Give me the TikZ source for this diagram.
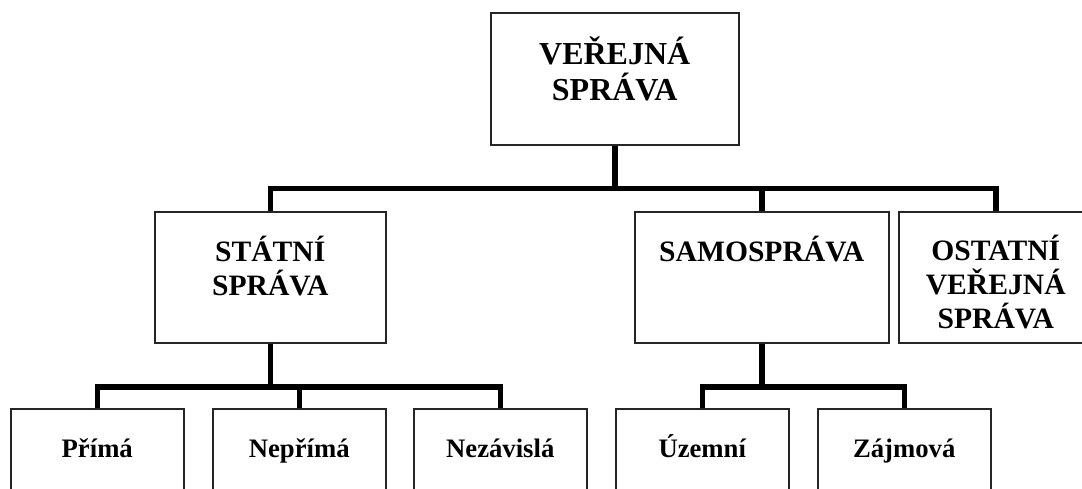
\documentclass[tikz,border=0pt]{standalone}
\usepackage{fontspec}
\setmainfont{Liberation Serif}
\begin{document}
\begin{tikzpicture}[x=1pt,y=-1pt,
  box/.style={draw=black!85,line width=1.5pt,rectangle,inner sep=0pt,anchor=north west},
  conn/.style={draw=black,line width=5.5pt,line join=miter,line cap=butt},
  lblA/.style={anchor=base,align=center,inner sep=0pt,font=\bfseries\fontsize{32}{36}\selectfont},
  lblB/.style={anchor=base,align=center,inner sep=0pt,font=\bfseries\fontsize{29.6}{34}\selectfont},
  lblC/.style={anchor=base,align=center,inner sep=0pt,font=\bfseries\fontsize{26.7}{30}\selectfont}]
\clip (0,0) rectangle (1082,488);
\fill[white] (0,0) rectangle (1082,488);
% boxes
\node[box,minimum width=248pt,minimum height=132pt] (T) at (490,12) {};
\node[box,minimum width=231pt,minimum height=131pt] (A) at (154,211) {};
\node[box,minimum width=254pt,minimum height=131pt] (B) at (634,211) {};
\node[box,minimum width=194pt,minimum height=131pt] (C) at (898,211) {};
\node[box,minimum width=173pt,minimum height=130pt] (P1) at (10,408) {};
\node[box,minimum width=173pt,minimum height=130pt] (P2) at (212,408) {};
\node[box,minimum width=173pt,minimum height=130pt] (P3) at (413,408) {};
\node[box,minimum width=173pt,minimum height=130pt] (S1) at (615,408) {};
\node[box,minimum width=173pt,minimum height=130pt] (S2) at (817,408) {};
% texts (base anchor = baseline of the last line)
\node[lblA] (tT) at ([yshift=-88pt]T.north) {VEŘEJNÁ\\SPRÁVA};
\node[lblB] (tA) at ([yshift=-84pt]A.north) {STÁTNÍ\\SPRÁVA};
\node[lblB] (tB) at ([yshift=-50pt]B.north) {SAMOSPRÁVA};
\node[lblB] (tC) at ([yshift=-117pt]C.north) {OSTATNÍ\\VEŘEJNÁ\\SPRÁVA};
\node[lblC] (tP1) at ([yshift=-49pt]P1.north) {Přímá};
\node[lblC] (tP2) at ([yshift=-49pt]P2.north) {Nepřímá};
\node[lblC] (tP3) at ([yshift=-49pt]P3.north) {Nezávislá};
\node[lblC] (tS1) at ([yshift=-49pt]S1.north) {Územní};
\node[lblC] (tS2) at ([yshift=-49pt]S2.north) {Zájmová};
% connectors
\path (T.south) ++(0,43) coordinate (j1);
\path (A.south) ++(0,43.5) coordinate (j2);
\path (B.south) ++(0,43.5) coordinate (j3);
\draw[conn] (T.south) -- (j1);
\draw[conn] (A.north) |- (j1) -| (C.north);
\draw[conn] (B.north) -- (B.north |- j1);
\draw[conn] (A.south) -- (j2);
\draw[conn] (P1.north) |- (j2) -| (P3.north);
\draw[conn] (P2.north) -- (P2.north |- j2);
\draw[conn] (B.south) -- (j3);
\draw[conn] (S1.north) |- (j3) -| (S2.north);
\end{tikzpicture}
\end{document}
